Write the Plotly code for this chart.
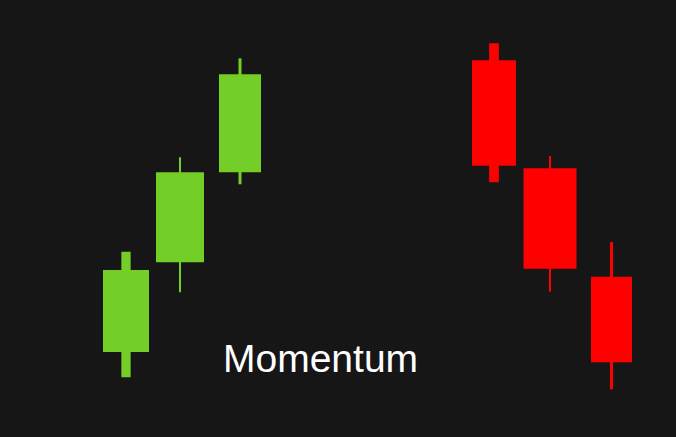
import plotly.graph_objects as go

# candle data: time position, open, high, low, close
x_pos = [12.6, 18.0, 24.0, 49.4, 55.0, 61.15]
opens = [8.50, 17.47, 26.47, 37.67, 26.87, 16.03]
highs = [18.53, 27.97, 37.87, 39.37, 28.10, 19.50]
lows = [5.97, 14.47, 25.27, 25.47, 14.53, 4.77]
closes = [16.70, 26.47, 36.27, 27.13, 16.83, 7.47]

label = "Momentum"

# styling
bg = "#161616"
up_color = "#75cd27"
down_color = "#ff0000"
body_width = [4.6, 4.8, 4.2, 4.4, 5.3, 4.1]
wick_width = [0.93, 0.2, 0.3, 0.97, 0.2, 0.3]

colors = [up_color if c >= o else down_color for o, c in zip(opens, closes)]

fig = go.Figure()

# wicks (high-low)
fig.add_trace(go.Bar(
    x=x_pos,
    y=[h - l for h, l in zip(highs, lows)],
    base=lows,
    width=wick_width,
    marker=dict(color=colors, line=dict(width=0)),
    hoverinfo="skip",
))

# bodies (open-close)
fig.add_trace(go.Bar(
    x=x_pos,
    y=[abs(c - o) for o, c in zip(opens, closes)],
    base=[min(o, c) for o, c in zip(opens, closes)],
    width=body_width,
    marker=dict(color=colors, line=dict(width=0)),
    hoverinfo="skip",
))

fig.add_annotation(
    text=label, x=0.4745, y=0.179, xref="paper", yref="paper",
    xanchor="center", yanchor="middle", showarrow=False,
    font=dict(family="Liberation Sans, Arial", size=39, color="#ffffff"),
)

fig.update_layout(
    width=676, height=437,
    margin=dict(l=0, r=0, t=0, b=0),
    paper_bgcolor=bg, plot_bgcolor=bg,
    barmode="overlay",
    showlegend=False,
    xaxis=dict(range=[0, 67.6], visible=False, fixedrange=True),
    yaxis=dict(range=[0, 43.7], visible=False, fixedrange=True),
)

# drop the page's default white body margin
fig.write_html(
    "out.html",
    config={"displayModeBar": False},
    post_script="document.body.style.margin='0';document.body.style.overflow='hidden';"
                "document.body.style.background='#161616';",
)
